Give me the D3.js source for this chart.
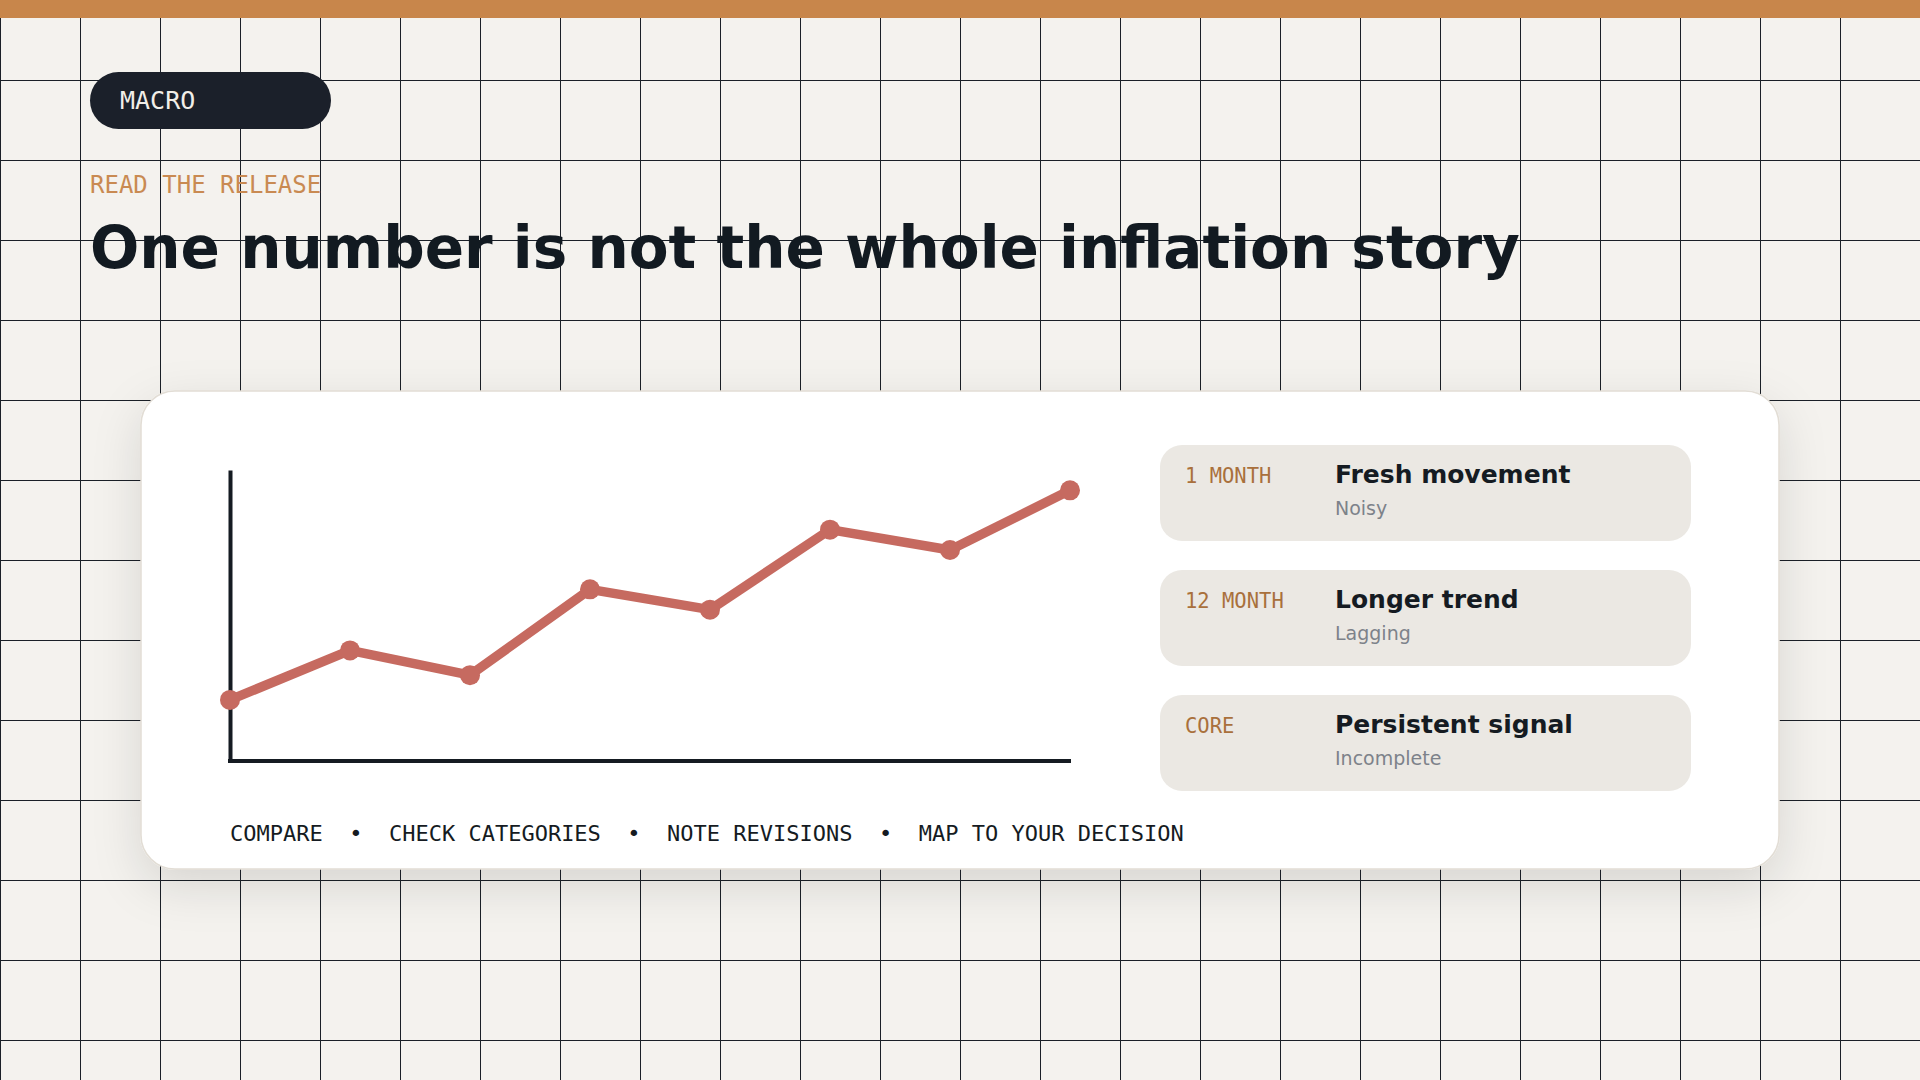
<!DOCTYPE html>
<html>
<head>
<meta charset="utf-8">
<script src="https://cdn.jsdelivr.net/npm/d3@7"></script>
<style>
  html, body { margin: 0; padding: 0; background: #f4f2ee; }
  svg { display: block; }
</style>
</head>
<body>
<div id="container"></div>
<script>
// Data
const periods = ["P1", "P2", "P3", "P4", "P5", "P6", "P7", "P8"];
const values = [21, 38, 29.5, 59, 52, 79.5, 72.5, 93];
const legendTags = ["1 MONTH", "12 MONTH", "CORE"];
const legendTitles = ["Fresh movement", "Longer trend", "Persistent signal"];
const legendNotes = ["Noisy", "Lagging", "Incomplete"];
const steps = ["COMPARE", "CHECK CATEGORIES", "NOTE REVISIONS", "MAP TO YOUR DECISION"];

const W = 1920, H = 1080;
const mono = "'DejaVu Sans Mono', monospace";
const sans = "'DejaVu Sans', sans-serif";

const svg = d3.select("#container")
  .append("svg")
  .attr("width", W)
  .attr("height", H);

const defs = svg.append("defs");
const shadow = defs.append("filter")
  .attr("id", "shadow")
  .attr("x", "-10%").attr("y", "-20%")
  .attr("width", "120%").attr("height", "150%");
shadow.append("feDropShadow")
  .attr("dx", 0).attr("dy", 16)
  .attr("stdDeviation", 24)
  .attr("flood-color", "#000")
  .attr("flood-opacity", 0.12);

// background grid
svg.append("rect").attr("width", W).attr("height", H).attr("fill", "#f4f2ee");

const grid = svg.append("g").attr("stroke", "#1a1f27").attr("stroke-width", 1);
grid.selectAll("line.v")
  .data(d3.range(0, W + 1, 80))
  .join("line")
  .attr("x1", d => d + 0.5).attr("x2", d => d + 0.5)
  .attr("y1", 0).attr("y2", H);
grid.selectAll("line.h")
  .data(d3.range(0, H + 1, 80))
  .join("line")
  .attr("y1", d => d + 0.5).attr("y2", d => d + 0.5)
  .attr("x1", 0).attr("x2", W);

// top bar
svg.append("rect").attr("width", W).attr("height", 18).attr("fill", "#c8864b");

// header
svg.append("rect")
  .attr("x", 90).attr("y", 72)
  .attr("width", 241).attr("height", 57)
  .attr("rx", 28.5)
  .attr("fill", "#1b202a");
svg.append("text")
  .attr("x", 120).attr("y", 109)
  .attr("font-family", mono).attr("font-size", 25)
  .attr("fill", "#f1eee8")
  .text("MACRO");

svg.append("text")
  .attr("x", 90).attr("y", 193)
  .attr("font-family", mono).attr("font-size", 24)
  .attr("fill", "#c98a52")
  .text("READ THE RELEASE");

svg.append("text")
  .attr("x", 90).attr("y", 268)
  .attr("font-family", sans).attr("font-size", 58).attr("font-weight", "bold")
  .attr("fill", "#121a21")
  .text("One number is not the whole inflation story");

// card
svg.append("rect")
  .attr("x", 141).attr("y", 391)
  .attr("width", 1638).attr("height", 478)
  .attr("rx", 34)
  .attr("fill", "#ffffff")
  .attr("stroke", "#e2ddd5").attr("stroke-width", 1.5)
  .attr("filter", "url(#shadow)");

// chart
const x = d3.scalePoint()
  .domain(periods)
  .range([230, 1070]);

const y = d3.scaleLinear()
  .domain([0, 100])
  .range([761, 470]);

const yAxis = d3.axisLeft(y).ticks(0).tickSize(0).tickSizeOuter(0);
const xAxis = d3.axisBottom(x).tickValues([]).tickSize(0).tickSizeOuter(0);

svg.append("g")
  .attr("transform", "translate(230,0)")
  .call(yAxis)
  .call(g => g.select(".domain").attr("stroke", "#151b22").attr("stroke-width", 4));

svg.append("g")
  .attr("transform", "translate(0,761)")
  .call(xAxis)
  .call(g => g.select(".domain")
    .attr("stroke", "#151b22").attr("stroke-width", 4)
    .attr("d", "M" + (x.range()[0] - 2) + ",0H" + (x.range()[1] + 1)));

const line = d3.line()
  .x((d, i) => x(periods[i]))
  .y(d => y(d));

svg.append("path")
  .datum(values)
  .attr("d", line)
  .attr("fill", "none")
  .attr("stroke", "#c66a60")
  .attr("stroke-width", 9.5)
  .attr("stroke-linejoin", "round");

svg.append("g")
  .selectAll("circle")
  .data(values)
  .join("circle")
  .attr("cx", (d, i) => x(periods[i]))
  .attr("cy", d => y(d))
  .attr("r", 10)
  .attr("fill", "#c66a60");

// legend boxes
const legend = svg.append("g")
  .selectAll("g")
  .data(legendTags)
  .join("g")
  .attr("transform", (d, i) => "translate(1160," + (445 + i * 125) + ")");

legend.append("rect")
  .attr("width", 531).attr("height", 96)
  .attr("rx", 22)
  .attr("fill", "#ebe8e3");

legend.append("text")
  .attr("x", 25).attr("y", 38)
  .attr("font-family", mono).attr("font-size", 20.5)
  .attr("fill", "#a9703c")
  .text(d => d);

legend.append("text")
  .attr("x", 175).attr("y", 38)
  .attr("font-family", sans).attr("font-size", 25).attr("font-weight", "bold")
  .attr("fill", "#151b22")
  .text((d, i) => legendTitles[i]);

legend.append("text")
  .attr("x", 175).attr("y", 70)
  .attr("font-family", sans).attr("font-size", 19)
  .attr("fill", "#7d828a")
  .text((d, i) => legendNotes[i]);

// steps row
const sep = "\u00A0\u00A0\u2022\u00A0\u00A0";
svg.append("text")
  .attr("x", 230).attr("y", 841)
  .attr("font-family", mono).attr("font-size", 22)
  .attr("fill", "#151b22")
  .text(steps.join(sep));
</script>
</body>
</html>
